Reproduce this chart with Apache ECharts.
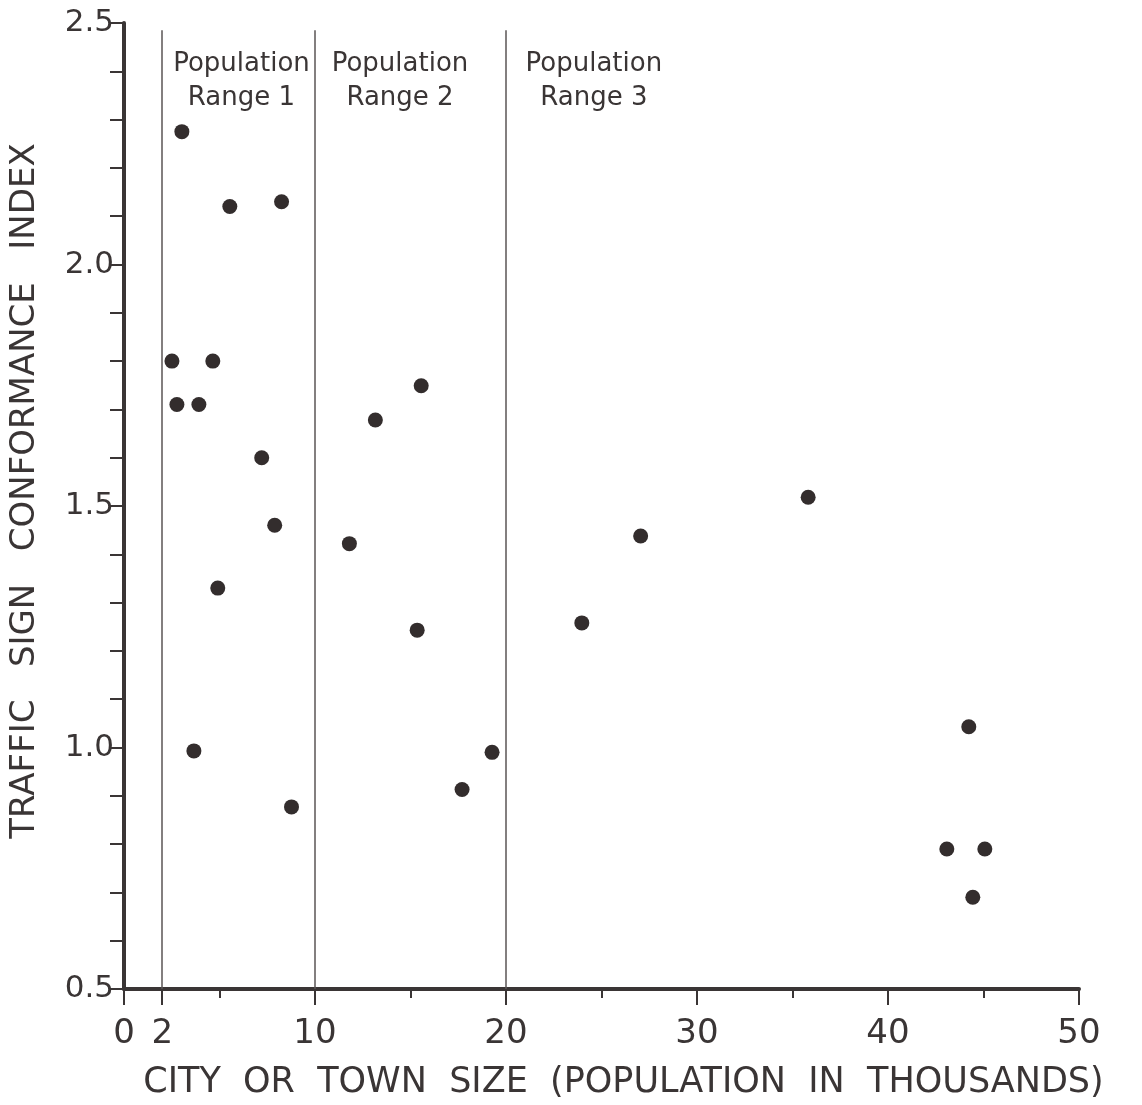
<!DOCTYPE html>
<html>
<head>
<meta charset="utf-8">
<script src="https://cdn.jsdelivr.net/npm/echarts@6/dist/echarts.min.js"></script>
<style>
html,body{margin:0;padding:0;background:#fff;}
#chart{width:1142px;height:1105px;}
</style>
</head>
<body>
<div id="chart"></div>
<script>
// City or town size (population, thousands)
var citySize = [3.03, 5.54, 8.25, 2.51, 4.65, 2.77, 3.92, 7.21, 7.89, 4.91, 3.66, 8.77,
                11.8, 13.16, 15.56, 15.35, 17.7, 19.27, 23.97, 27.05, 35.82, 44.23, 43.08, 45.07, 44.44];
// Traffic sign conformance index
var conformance = [2.275, 2.12, 2.13, 1.80, 1.80, 1.71, 1.71, 1.60, 1.46, 1.33, 0.993, 0.877,
                   1.422, 1.678, 1.749, 1.243, 0.913, 0.99, 1.258, 1.438, 1.518, 1.043, 0.79, 0.79, 0.69];
// Population range boundaries
var rangeBounds = [2, 10, 20];
var rangeLabels = ['Population\nRange 1', 'Population\nRange 2', 'Population\nRange 3'];
var rangeLabelX = [6.15, 14.45, 24.6];
var rangeLabelY = 2.38;
// Tick labels
var xTickValues = [0, 2, 10, 20, 30, 40, 50];
var yTickLabels = ['0.5', '1.0', '1.5', '2.0', '2.5'];

var FONT = '"DejaVu Sans", sans-serif';
var INK = '#3a3535';

var points = citySize.map(function (x, i) { return [x, conformance[i]]; });

var chart = echarts.init(document.getElementById('chart'));
chart.setOption({
  backgroundColor: '#ffffff',
  animation: false,
  grid: { left: 121, right: 63, top: 23, bottom: 114, containLabel: false },
  xAxis: [{
    type: 'value', min: 0, max: 50,
    name: 'CITY  OR  TOWN  SIZE  (POPULATION  IN  THOUSANDS)',
    nameLocation: 'middle', nameGap: 76,
    nameTextStyle: { fontFamily: FONT, fontSize: 35, color: INK, padding: [0, 0, 0, 44] },
    axisLine: { show: true, lineStyle: { color: INK, width: 4 } },
    axisTick: { show: true, customValues: xTickValues, length: 16, lineStyle: { color: INK, width: 2 } },
    axisLabel: { show: true, customValues: xTickValues, fontFamily: FONT, fontSize: 34, color: INK, margin: 28 },
    splitLine: { show: false }
  }, {
    type: 'value', min: 0, max: 50, interval: 5, position: 'bottom',
    axisLine: { show: false },
    axisTick: { show: true, length: 9, lineStyle: { color: INK, width: 2 } },
    axisLabel: { show: false },
    splitLine: { show: false }
  }],
  yAxis: {
    type: 'value', min: 0.5, max: 2.5, interval: 0.5,
    name: 'TRAFFIC   SIGN   CONFORMANCE   INDEX',
    nameLocation: 'middle', nameGap: 82, nameRotate: 90,
    nameTextStyle: { fontFamily: FONT, fontSize: 34, color: INK, padding: [0, 0, 0, 30] },
    axisLine: { show: true, lineStyle: { color: INK, width: 4 } },
    axisTick: { show: true, length: 14, lineStyle: { color: INK, width: 2 } },
    minorTick: { show: true, splitNumber: 5, length: 14, lineStyle: { color: INK, width: 2 } },
    axisLabel: {
      fontFamily: FONT, fontSize: 31, color: INK, margin: 10,
      formatter: function (v) {
        var idx = Math.round((v - 0.5) / 0.5);
        return yTickLabels[idx] !== undefined ? yTickLabels[idx] : '';
      }
    },
    splitLine: { show: false }
  },
  series: [{
    type: 'scatter',
    xAxisIndex: 0,
    data: points,
    symbol: 'circle',
    symbolSize: 15,
    itemStyle: { color: '#332d2d', opacity: 1 },
    markLine: {
      silent: true,
      symbol: ['none', 'none'],
      label: { show: false },
      lineStyle: { color: '#5a5454', width: 1.5, type: 'solid', opacity: 1 },
      data: rangeBounds.map(function (b) { return [{ coord: [b, 2.485] }, { coord: [b, 0.5] }]; })
    }
  }, {
    type: 'scatter',
    xAxisIndex: 0,
    data: rangeLabelX.map(function (x, i) { return { value: [x, rangeLabelY], name: rangeLabels[i] }; }),
    symbolSize: 0,
    silent: true,
    itemStyle: { opacity: 1 },
    label: {
      show: true, position: 'inside', opacity: 1,
      formatter: function (p) { return p.name; },
      fontFamily: FONT, fontSize: 26, color: INK, lineHeight: 34, align: 'center'
    }
  }]
});
</script>
</body>
</html>
